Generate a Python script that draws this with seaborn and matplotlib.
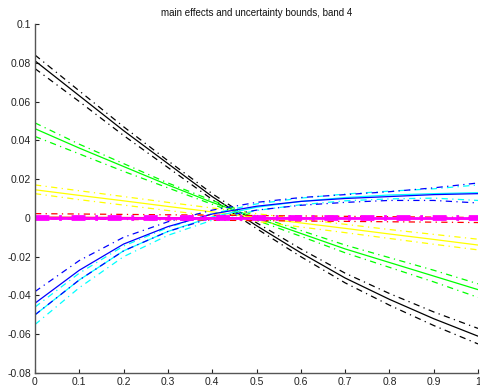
import numpy as np
import pandas as pd
import matplotlib
matplotlib.use("Agg")
import matplotlib.pyplot as plt
import seaborn as sns

sns.set_style("white")
plt.rcParams['font.family'] = ['Liberation Sans', 'DejaVu Sans']

x = [0.0, 0.1, 0.2, 0.3, 0.4, 0.5, 0.6, 0.7, 0.8, 0.9, 1.0]

black = [0.081, 0.063, 0.045, 0.028, 0.011, -0.004, -0.018, -0.031, -0.042, -0.052, -0.061]
black_hi = [0.084, 0.0655, 0.047, 0.0295, 0.0125, -0.0025, -0.016, -0.0285, -0.039, -0.0485, -0.057]
black_lo = [0.077, 0.060, 0.0425, 0.026, 0.0095, -0.0055, -0.020, -0.0335, -0.045, -0.0555, -0.065]

green = [0.046, 0.036, 0.0265, 0.017, 0.008, 0.0, -0.008, -0.016, -0.023, -0.030, -0.037]
green_hi = [0.049, 0.038, 0.028, 0.018, 0.009, 0.001, -0.0065, -0.014, -0.0205, -0.027, -0.034]
green_lo = [0.042, 0.033, 0.024, 0.0155, 0.007, -0.0012, -0.0095, -0.018, -0.0255, -0.033, -0.041]

yellow = [0.0145, 0.0116, 0.0088, 0.0059, 0.0031, 0.0002, -0.0026, -0.0054, -0.0083, -0.0111, -0.014]
yellow_hi = [0.017, 0.0140, 0.0110, 0.0080, 0.0051, 0.0022, -0.0006, -0.0033, -0.0060, -0.0085, -0.011]
yellow_lo = [0.0125, 0.0094, 0.0066, 0.0038, 0.0011, -0.0018, -0.0047, -0.0076, -0.0106, -0.0136, -0.0165]

red = [0.0004, 0.0003, 0.0002, 0.0001, 0.0, 0.0, -0.0001, -0.0002, -0.0003, -0.0004, -0.0005]
red_hi = [0.0022, 0.0020, 0.0018, 0.0016, 0.0014, 0.0012, 0.0010, 0.0008, 0.0006, 0.0004, 0.0002]
red_lo = [-0.0004, -0.0006, -0.0008, -0.0010, -0.0012, -0.0014, -0.0016, -0.0018, -0.0020, -0.0022, -0.0024]

magenta = [0.0, 0.0, 0.0, 0.0, 0.0, 0.0, 0.0, 0.0, 0.0, 0.0, 0.0]
magenta_hi = [0.0008, 0.0008, 0.0008, 0.0008, 0.0008, 0.0008, 0.0008, 0.0008, 0.0008, 0.0008, 0.0008]
magenta_lo = [-0.0008, -0.0008, -0.0008, -0.0008, -0.0008, -0.0008, -0.0008, -0.0008, -0.0008, -0.0008, -0.0008]

blue = [-0.044, -0.027, -0.0135, -0.0045, 0.002, 0.006, 0.0085, 0.010, 0.011, 0.012, 0.0125]
blue_hi = [-0.038, -0.022, -0.0100, -0.0020, 0.0040, 0.0080, 0.0105, 0.0120, 0.0135, 0.0155, 0.018]
blue_lo = [-0.050, -0.032, -0.0170, -0.0070, 0.0000, 0.0040, 0.0065, 0.0080, 0.0090, 0.0090, 0.0077]

cyan = [-0.050, -0.032, -0.017, -0.007, 0.0005, 0.0055, 0.0085, 0.0105, 0.0118, 0.0125, 0.013]
cyan_hi = [-0.046, -0.0285, -0.0145, -0.0050, 0.0022, 0.0072, 0.0102, 0.0123, 0.0138, 0.0150, 0.017]
cyan_lo = [-0.055, -0.0360, -0.0200, -0.0090, -0.0012, 0.0038, 0.0068, 0.0088, 0.0098, 0.0102, 0.009]

xticks = [0, 0.1, 0.2, 0.3, 0.4, 0.5, 0.6, 0.7, 0.8, 0.9, 1]
xticklabels = ["0", "0.1", "0.2", "0.3", "0.4", "0.5", "0.6", "0.7", "0.8", "0.9", "1"]
yticks = [-0.08, -0.06, -0.04, -0.02, 0, 0.02, 0.04, 0.06, 0.08, 0.1]
yticklabels = ["-0.08", "-0.06", "-0.04", "-0.02", "0", "0.02", "0.04", "0.06", "0.08", "0.1"]
title = "main effects and uncertainty bounds, band 4"

fig = plt.figure(figsize=(4.8, 3.91), dpi=100)
ax = fig.add_axes([35/480, 18/391, (478-35)/480, (373-24)/391])

dd = (5, 3.5, 1, 3.5)

def draw(y, hi, lo, color, lw=0.9, blw=0.9):
    sns.lineplot(x=x, y=hi, ax=ax, color=color, lw=blw, estimator=None)
    ax.lines[-1].set_dashes(dd)
    sns.lineplot(x=x, y=lo, ax=ax, color=color, lw=blw, estimator=None)
    ax.lines[-1].set_dashes(dd)
    sns.lineplot(x=x, y=y, ax=ax, color=color, lw=lw, estimator=None)

draw(black, black_hi, black_lo, "black")
draw(green, green_hi, green_lo, "#00ff00")
draw(yellow, yellow_hi, yellow_lo, "#ffff00")
draw(cyan, cyan_hi, cyan_lo, "#00ffff")
draw(blue, blue_hi, blue_lo, "#0000ff")
draw(red, red_hi, red_lo, "#ff0000")
draw(magenta, magenta_hi, magenta_lo, "#ff00ff", lw=2.0, blw=2.0)

ax.set_xlim(0, 1)
ax.set_ylim(-0.08, 0.1)
ax.set_xticks(xticks)
ax.set_xticklabels(xticklabels)
ax.set_yticks(yticks)
ax.set_yticklabels(yticklabels)
ax.tick_params(direction="in", length=3, width=0.8, labelsize=7.5, colors="#222222",
               bottom=True, left=True, pad=3)
for s in ["top", "right"]:
    ax.spines[s].set_visible(False)
for s in ["left", "bottom"]:
    ax.spines[s].set_color("#555555")
    ax.spines[s].set_linewidth(1.0)
ax.set_xlabel("")
ax.set_ylabel("")
ax.set_title(title, fontsize=7, pad=6, color="#111111")
fig.savefig("out.png", dpi=100)
